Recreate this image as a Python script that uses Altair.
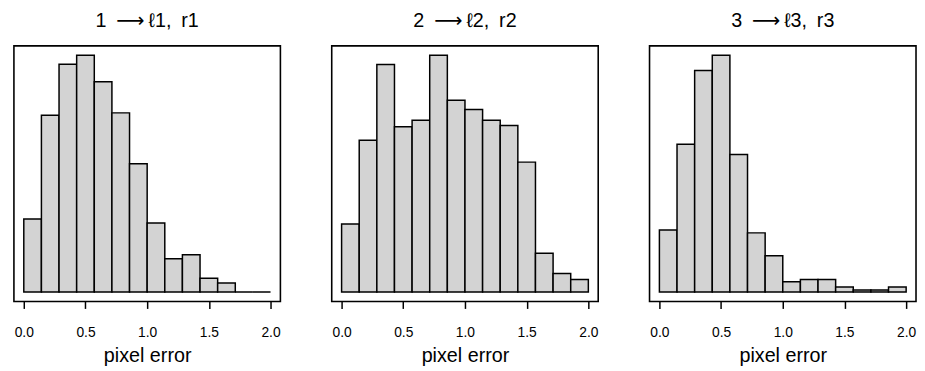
import altair as alt
import pandas as pd

bin_edges = [0.0, 0.142857, 0.285714, 0.428571, 0.571429, 0.714286, 0.857143,
             1.0, 1.142857, 1.285714, 1.428571, 1.571429, 1.714286, 1.857143, 2.0]
titles = ["1\u2002\u27f6\u2009\u21131,\u2002r1",
          "2\u2002\u27f6\u2009\u21132,\u2002r2",
          "3\u2002\u27f6\u2009\u21133,\u2002r3"]
counts_1 = [221, 535, 689, 716, 636, 542, 388, 209, 101, 113, 42, 27, 0, 0]
counts_2 = [206, 459, 688, 500, 520, 716, 580, 552, 520, 504, 393, 117, 56, 38]
counts_3 = [188, 447, 670, 716, 416, 179, 110, 31, 38, 38, 15, 6, 6, 15]
x_ticks = [0.0, 0.5, 1.0, 1.5, 2.0]
x_title = "pixel error"

FONT = "Liberation Sans, DejaVu Sans"


def panel(counts, title):
    df = pd.DataFrame({
        "lo": bin_edges[:-1],
        "hi": bin_edges[1:],
        "count": counts,
        "zero": [0] * len(counts),
    })
    m = max(counts)
    return alt.Chart(
        df,
        title=alt.TitleParams(title, fontSize=20, font=FONT, fontWeight="normal",
                              color="black", baseline="alphabetic", offset=-1,
                              anchor="middle"),
    ).mark_rect(fill="#d3d3d3", stroke="black", strokeWidth=1.5).encode(
        x=alt.X("lo:Q",
                scale=alt.Scale(domain=[-0.08, 2.08], nice=False, zero=False),
                axis=alt.Axis(values=x_ticks, format=".1f", title=x_title)),
        x2="hi:Q",
        y=alt.Y("count:Q",
                scale=alt.Scale(domain=[-0.04 * m, 1.04 * m], nice=False, zero=False),
                axis=None),
        y2="zero:Q",
    ).properties(width=270, height=259)


chart = alt.hconcat(
    panel(counts_1, titles[0]),
    panel(counts_2, titles[1]),
    panel(counts_3, titles[2]),
    spacing=50,
).properties(
    padding={"left": 5, "top": 0, "right": 0, "bottom": 0},
    background="white",
).configure_view(
    stroke="black", strokeWidth=1.6, fill=None,
).configure_axis(
    domain=False, grid=False, ticks=True, tickSize=7, tickColor="black",
    tickWidth=1.5, labelFont=FONT, labelFontSize=14, labelColor="black",
    labelPadding=17, labelOverlap=False, titleFont=FONT, titleFontSize=20,
    titleFontWeight="normal", titleColor="black", titlePadding=7,
)

chart.save("out.html", embed_options={"renderer": "svg", "actions": False})
